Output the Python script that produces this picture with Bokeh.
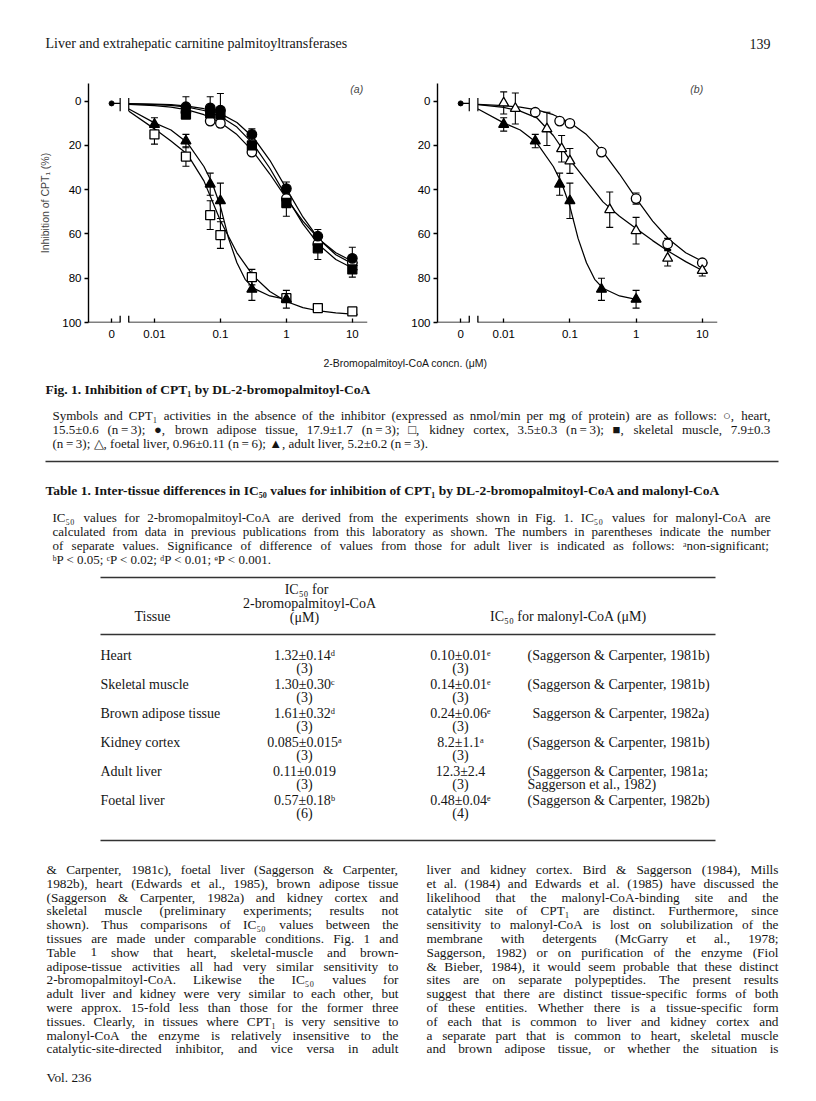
import numpy as np
from bokeh.plotting import figure
from bokeh.models import Range1d, FixedTicker, Whisker, TeeHead, ColumnDataSource, Arrow, Label
from bokeh.layouts import column, row
from bokeh.embed import file_html
from bokeh.resources import INLINE
from bokeh.core.properties import value

# ---------------- DATA ----------------
# concentrations in uM, inhibition in %
heart_conc = [0.03, 0.07, 0.1, 0.3, 1, 3, 10]
heart_inh = [5, 9, 10, 23, 44, 64.5, 73]
heart_err = [1, 1, 1, 1, 2.5, 2.5, 1.5]

bat_conc = [0.03, 0.07, 0.1, 0.3, 1, 3, 10]
bat_inh = [2.5, 3, 4, 15, 39.5, 61, 71]
bat_err = [4.5, 5, 7.5, 2.5, 3, 3, 5]

kidney_conc = [0.01, 0.03, 0.07, 0.1, 0.3, 1, 3, 10]
kidney_inh = [15, 25, 51.5, 60.5, 79.5, 89, 93.5, 95]
kidney_err = [4.4, 4.4, 6.5, 6, 3.5, 1.5, 1, 1.5]

skm_conc = [0.03, 0.07, 0.1, 0.3, 1, 3, 10]
skm_inh = [6, 5.5, 6, 20, 46, 66.5, 76]
skm_err = [1, 1.5, 2, 1.5, 6, 5, 3.5]

adult_conc = [0.01, 0.03, 0.07, 0.1, 0.3, 1]
adult_inh = [10.5, 18, 37.5, 45, 85, 89.5]
adult_err = [3, 3, 5, 8, 5, 4]

foetal_conc = [0.01, 0.015, 0.045, 0.075, 0.1, 0.4, 1, 3, 10]
foetal_inh = [0.8, 3.3, 12.5, 21.5, 27, 49, 58.5, 71, 76.5]
foetal_err = [5, 7, 7.5, 6, 5.6, 8, 6, 3.5, 2.5]

zero_inh = 1.0  # value plotted at zero concentration

# fitted curves
fit_conc = [0.0041, 0.01, 0.0178, 0.0316, 0.0562, 0.1, 0.178, 0.316, 0.562, 1.0, 1.78, 3.16, 5.62, 10.0, 12.0]
heart_fit = [1.4, 2.0, 2.7, 3.9, 6.1, 9.6, 15.1, 22.9, 32.9, 43.9, 54.2, 62.5, 68.5, 72.3, 73.2]
bat_fit = [1.1, 1.3, 1.6, 2.2, 3.4, 5.6, 9.6, 16.4, 26.7, 39.5, 52.3, 62.5, 69.4, 73.4, 74.3]
skm_fit = [1.2, 1.5, 1.9, 2.7, 4.2, 6.9, 11.7, 19.4, 30.3, 43.1, 55.4, 65.1, 71.5, 75.4, 76.2]
kidney_fit = [4.5, 12.5, 18, 24, 36, 54, 68.5, 79, 86, 90.5, 93.3, 94.8, 95.7, 96.2, 96.3]
foetal_fit = [1.5, 2.8, 4.5, 7.5, 15.5, 26.5, 36, 45.5, 52, 57.5, 63, 68, 72.5, 76.5, 77.7]
adult_fit_conc = [0.0041, 0.01, 0.0178, 0.0316, 0.0562, 0.075, 0.1, 0.133, 0.178, 0.237, 0.316, 0.562, 1.0, 1.12]
adult_fit = [3.5, 9.8, 13, 18.8, 29.5, 37, 47.5, 62, 73, 80.5, 84.5, 88, 89.5, 89.7]

x_tick_conc = [0.01, 0.1, 1, 10]
x_tick_labels = ["0.01", "0.1", "1", "10"]
y_ticks = [0, 20, 40, 60, 80, 100]

# Table 1
tissues = ["Heart", "Skeletal muscle", "Brown adipose tissue", "Kidney cortex", "Adult liver", "Foetal liver"]
bromo_ic50 = ["1.32±0.14ᵈ", "1.30±0.30ᶜ", "1.61±0.32ᵈ", "0.085±0.015ᵃ", "0.11±0.019", "0.57±0.18ᵇ"]
bromo_n = ["(3)", "(3)", "(3)", "(3)", "(3)", "(6)"]
malonyl_ic50 = ["0.10±0.01ᵉ", "0.14±0.01ᵉ", "0.24±0.06ᵉ", "8.2±1.1ᵃ", "12.3±2.4", "0.48±0.04ᵉ"]
malonyl_n = ["(3)", "(3)", "(3)", "(3)", "(3)", "(4)"]
refs = ["(Saggerson & Carpenter, 1981b)", "(Saggerson & Carpenter, 1981b)", "Saggerson & Carpenter, 1982a)",
        "(Saggerson & Carpenter, 1981b)", "(Saggerson & Carpenter, 1981a;", "(Saggerson & Carpenter, 1982b)"]
refs2 = ["", "", "", "", " Saggerson et al., 1982)", ""]

header_text = "Liver and extrahepatic carnitine palmitoyltransferases"
page_no = "139"
x_label = "2-Bromopalmitoyl-CoA concn. (μM)"
y_label = "Inhibition of CPT₁ (%)"
fig_title = "Fig. 1. Inhibition of CPT₁ by DL-2-bromopalmitoyl-CoA"
T = "\u2009"
fig_caption = [
    "Symbols and CPT₁ activities in the absence of the inhibitor (expressed as nmol/min per mg of protein) are as follows: ○, heart,",
    f"15.5±0.6 (n{T}={T}3); ●, brown adipose tissue, 17.9±1.7 (n{T}={T}3); □, kidney cortex, 3.5±0.3 (n{T}={T}3); ■, skeletal muscle, 7.9±0.3",
    f"(n{T}={T}3); △, foetal liver, 0.96±0.11 (n{T}={T}6); ▲, adult liver, 5.2±0.2 (n{T}={T}3).",
]
table_title = "Table 1. Inter-tissue differences in IC₅₀ values for inhibition of CPT₁ by DL-2-bromopalmitoyl-CoA and malonyl-CoA"
table_caption = [
    "IC₅₀ values for 2-bromopalmitoyl-CoA are derived from the experiments shown in Fig. 1. IC₅₀ values for malonyl-CoA are",
    "calculated from data in previous publications from this laboratory as shown. The numbers in parentheses indicate the number",
    "of separate values. Significance of difference of values from those for adult liver is indicated as follows: ᵃnon-significant;",
    "ᵇP < 0.05; ᶜP < 0.02; ᵈP < 0.01; ᵉP < 0.001.",
]
body_left = [
    "& Carpenter, 1981c), foetal liver (Saggerson & Carpenter,",
    "1982b), heart (Edwards et al., 1985), brown adipose tissue",
    "(Saggerson & Carpenter, 1982a) and kidney cortex and",
    "skeletal muscle (preliminary experiments; results not",
    "shown). Thus comparisons of IC₅₀ values between the",
    "tissues are made under comparable conditions. Fig. 1 and",
    "Table 1 show that heart, skeletal-muscle and brown-",
    "adipose-tissue activities all had very similar sensitivity to",
    "2-bromopalmitoyl-CoA. Likewise the IC₅₀ values for",
    "adult liver and kidney were very similar to each other, but",
    "were approx. 15-fold less than those for the former three",
    "tissues. Clearly, in tissues where CPT₁ is very sensitive to",
    "malonyl-CoA the enzyme is relatively insensitive to the",
    "catalytic-site-directed inhibitor, and vice versa in adult",
]
body_right = [
    "liver and kidney cortex. Bird & Saggerson (1984), Mills",
    "et al. (1984) and Edwards et al. (1985) have discussed the",
    "likelihood that the malonyl-CoA-binding site and the",
    "catalytic site of CPT₁ are distinct. Furthermore, since",
    "sensitivity to malonyl-CoA is lost on solubilization of the",
    "membrane with detergents (McGarry et al., 1978;",
    "Saggerson, 1982) or on purification of the enzyme (Fiol",
    "& Bieber, 1984), it would seem probable that these distinct",
    "sites are on separate polypeptides. The present results",
    "suggest that there are distinct tissue-specific forms of both",
    "of these entities. Whether there is a tissue-specific form",
    "of each that is common to liver and kidney cortex and",
    "a separate part that is common to heart, skeletal muscle",
    "and brown adipose tissue, or whether the situation is",
]
volume = "Vol. 236"

# ---------------- PANELS ----------------
X_START, X_END = -3.0, 1.23          # log10 units of the broken axis
X_ZERO, X_BRK_L, X_BRK_R = -2.65, -2.52, -2.39
SANS = "Liberation Sans"
SERIF = "Liberation Serif"


def make_panel(series, curves, tag, tag_x, ylab, width, bl, br):
    p = figure(width=width, height=292, title=None,
               x_range=Range1d(X_START, X_END), y_range=Range1d(100, -8),
               output_backend="svg", toolbar_location=None,
               min_border_left=bl, min_border_right=br, min_border_top=23, min_border_bottom=30)
    p.grid.visible = False
    p.outline_line_color = None
    p.background_fill_color = "white"
    p.border_fill_color = "white"

    xa = p.xaxis[0]
    tick_pos = [float(np.log10(c)) for c in x_tick_conc]
    xa.ticker = FixedTicker(ticks=[X_ZERO] + tick_pos)
    ov = {X_ZERO: "0"}
    for tp, lab in zip(tick_pos, x_tick_labels):
        ov[tp] = lab
    xa.major_label_overrides = ov
    xa.axis_line_color = None
    xa.major_tick_in = 4
    xa.major_tick_out = 0
    xa.major_tick_line_width = 1.3
    xa.minor_tick_line_color = None
    xa.major_label_standoff = 7
    xa.major_label_text_font = SANS
    xa.major_label_text_font_size = "11.5px"
    xa.major_label_text_color = "black"

    ya = p.yaxis[0]
    ya.ticker = FixedTicker(ticks=y_ticks)
    ya.axis_line_width = 1.4
    ya.major_tick_in = 0
    ya.major_tick_out = 4
    ya.major_tick_line_width = 1.3
    ya.minor_tick_line_color = None
    ya.major_label_standoff = 3
    ya.major_label_text_font = SANS
    ya.major_label_text_font_size = "11.5px"
    ya.major_label_text_color = "black"
    if ylab:
        ya.axis_label = ylab
        ya.axis_label_text_font = SANS
        ya.axis_label_text_font_size = "10.5px"
        ya.axis_label_text_font_style = "normal"
        ya.axis_label_standoff = 8

    # broken x axis line
    for x0, x1 in [(X_START, X_BRK_L), (X_BRK_R, X_END)]:
        p.add_layout(Arrow(end=None, x_start=x0, y_start=100, x_end=x1, y_end=100,
                           line_color="black", line_width=1.4))
    for xb in (X_BRK_L, X_BRK_R):
        p.add_layout(Arrow(end=None, x_start=xb, y_start=97, x_end=xb, y_end=103,
                           line_color="black", line_width=1.3))

    # fitted curves
    for cc, fy in curves:
        p.line(np.log10(cc), fy, line_color="black", line_width=1.25)

    # zero-concentration point and break marks at data level
    p.line([X_ZERO, X_BRK_L], [zero_inh, zero_inh], line_color="black", line_width=1.2)
    p.segment(x0=[X_BRK_L, X_BRK_R], y0=[zero_inh - 2.5] * 2, x1=[X_BRK_L, X_BRK_R],
              y1=[zero_inh + 3.5] * 2, line_color="black", line_width=1.2)
    p.scatter([X_ZERO], [zero_inh], marker="circle", size=5, fill_color="black", line_color="black")

    # error bars, then markers
    for conc, inh, err, marker, fill, size in series:
        x = np.log10(conc)
        y = np.array(inh, dtype=float)
        e = np.array(err, dtype=float)
        src = ColumnDataSource(dict(x=x, lower=y - e, upper=y + e))
        w = Whisker(source=src, base="x", lower="lower", upper="upper",
                    line_color="black", line_width=1.1,
                    upper_head=TeeHead(size=7, line_width=1.1, line_color="black"),
                    lower_head=TeeHead(size=7, line_width=1.1, line_color="black"),
                    level="underlay")
        p.add_layout(w)
    for conc, inh, err, marker, fill, size in series:
        p.scatter(np.log10(conc), inh, marker=marker, size=size, fill_color=fill,
                  line_color="black", line_width=1.3)

    p.add_layout(Label(x=tag_x, y=-5.4, text=tag, text_font=SANS, text_font_size="10.5px",
                       text_font_style="italic", text_baseline="middle"))
    return p


series_a = [
    (heart_conc, heart_inh, heart_err, "circle", "white", 9.5),
    (kidney_conc, kidney_inh, kidney_err, "square", "white", 9),
    (bat_conc, bat_inh, bat_err, "circle", "black", 9.5),
    (skm_conc, skm_inh, skm_err, "square", "black", 9),
    (adult_conc, adult_inh, adult_err, "triangle", "black", 10),
]
curves_a = [(fit_conc, heart_fit), (fit_conc, bat_fit), (fit_conc, skm_fit),
            (fit_conc, kidney_fit), (adult_fit_conc, adult_fit)]
series_b = [
    (heart_conc, heart_inh, heart_err, "circle", "white", 9.5),
    (foetal_conc, foetal_inh, foetal_err, "triangle", "white", 10),
    (adult_conc, adult_inh, adult_err, "triangle", "black", 10),
]
curves_b = [(fit_conc, heart_fit), (fit_conc, foetal_fit), (adult_fit_conc, adult_fit)]

pa = make_panel(series_a, curves_a, "(a)", 0.97, y_label, 400, 88, 33)
pb = make_panel(series_b, curves_b, "(b)", 0.82, None, 400, 37, 83)

# ---------------- TEXT ----------------
TW = {}
for ch, w in zip("ABCDEFGHIJKLMNOPQRSTUVWXYZ",
                 [722, 667, 667, 722, 611, 556, 722, 722, 333, 389, 722, 611, 889, 722, 722, 556, 722, 667, 556,
                  611, 722, 722, 944, 722, 722, 611]):
    TW[ch] = w
for ch, w in zip("abcdefghijklmnopqrstuvwxyz",
                 [444, 500, 444, 500, 444, 333, 500, 500, 278, 278, 500, 278, 778, 500, 500, 500, 500, 333, 389,
                  278, 500, 500, 722, 500, 500, 444]):
    TW[ch] = w
for ch in "0123456789":
    TW[ch] = 500
TW.update({" ": 250, ",": 250, ".": 250, ";": 278, ":": 278, "(": 333, ")": 333, "-": 333, "&": 778,
           "/": 278, "=": 564, "<": 564, ">": 564, "±": 564, "%": 833, "μ": 500, T: 200})
for ch in "₀₁₂₃₄₅₆₇₈₉ᵃᵇᶜᵈᵉ":
    TW[ch] = 400
for ch in "○●□■△▲":
    TW[ch] = 700


def twidth(s, size):
    return sum(TW.get(c, 500) for c in s) * size / 1000.0


def justify(store, lines, x0, width, y0, pitch, size, last_just):
    for i, line in enumerate(lines):
        y = y0 + i * pitch
        words = line.split(" ")
        if (i == len(lines) - 1 and not last_just) or len(words) == 1:
            store.append((x0, y, line))
            continue
        wsum = sum(twidth(w, size) for w in words)
        gap = max((width - wsum) / (len(words) - 1), 0.2 * size)
        x = x0
        for w in words:
            store.append((x, y, w))
            x += twidth(w, size) + gap


def put(p, items, font, size, align="left", style="normal", color="#151515"):
    if not items:
        return
    src = ColumnDataSource(dict(x=[a for a, b, c in items], y=[b for a, b, c in items],
                                t=[c for a, b, c in items]))
    p.text(x="x", y="y", text="t", source=src, text_font=value(font), text_font_size=value(size),
           text_align=align, text_baseline="middle", text_font_style=style, text_color=color)


def blank(width, height, y_top):
    p = figure(width=width, height=height, title=None, x_range=Range1d(0, width),
               y_range=Range1d(y_top + height, y_top), output_backend="svg", toolbar_location=None,
               min_border=0, x_axis_location=None, y_axis_location=None)
    p.grid.visible = False
    p.outline_line_color = None
    return p


# header
ph = blank(800, 60, 0)
put(ph, [(45, 43, header_text)], SERIF, "14px")
put(ph, [(770, 43, page_no)], SERIF, "14px", align="right")

# body below the panels
pt = blank(800, 743, 352)
put(pt, [(405, 362, x_label)], SANS, "10.5px", align="center")
put(pt, [(45, 389, fig_title), (45, 490, table_title)], SERIF, "13.5px", style="bold")

cap = []
justify(cap, fig_caption, 52, 718, 415, 14, 13, False)
justify(cap, table_caption, 52, 718, 517, 14, 13, False)
put(pt, cap, SERIF, "13px")

# table
tbl_left, tbl_center = [], []
tbl_center += [(306, 588.5, "IC₅₀ for"), (309, 602.5, "2-bromopalmitoyl-CoA"), (304, 616.5, "(μM)"),
               (152, 616, "Tissue"), (568, 616, "IC₅₀ for malonyl-CoA (μM)")]
ROW0, ROWP, SUBP = 655, 29, 13.3
for i, t in enumerate(tissues):
    yy = ROW0 + i * ROWP
    tbl_left.append((100, yy, t))
    tbl_center.append((304, yy, bromo_ic50[i]))
    tbl_center.append((304, yy + SUBP, bromo_n[i]))
    tbl_center.append((460, yy, malonyl_ic50[i]))
    tbl_center.append((460, yy + SUBP, malonyl_n[i]))
    tbl_left.append((527 if refs[i].startswith("(") else 532, yy, refs[i]))
    if refs2[i]:
        tbl_left.append((527, yy + SUBP, refs2[i]))
put(pt, tbl_left, SERIF, "14px")
put(pt, tbl_center, SERIF, "14px", align="center")

rules_x0 = [45, 100, 100, 100]
rules_x1 = [778, 715, 715, 715]
rules_y = [461, 577, 634, 840]
pt.segment(x0=rules_x0, y0=rules_y, x1=rules_x1, y1=rules_y, line_color="#333333", line_width=1.3)

body = []
justify(body, body_left, 46, 352, 869, 13.8, 13.3, True)
justify(body, body_right, 426, 352, 869, 13.8, 13.3, True)
body.append((46, 1077, volume))
put(pt, body, SERIF, "13.3px")

layout = column(ph, row(pa, pb), pt)
open("out.html", "w").write(file_html(layout, INLINE))
